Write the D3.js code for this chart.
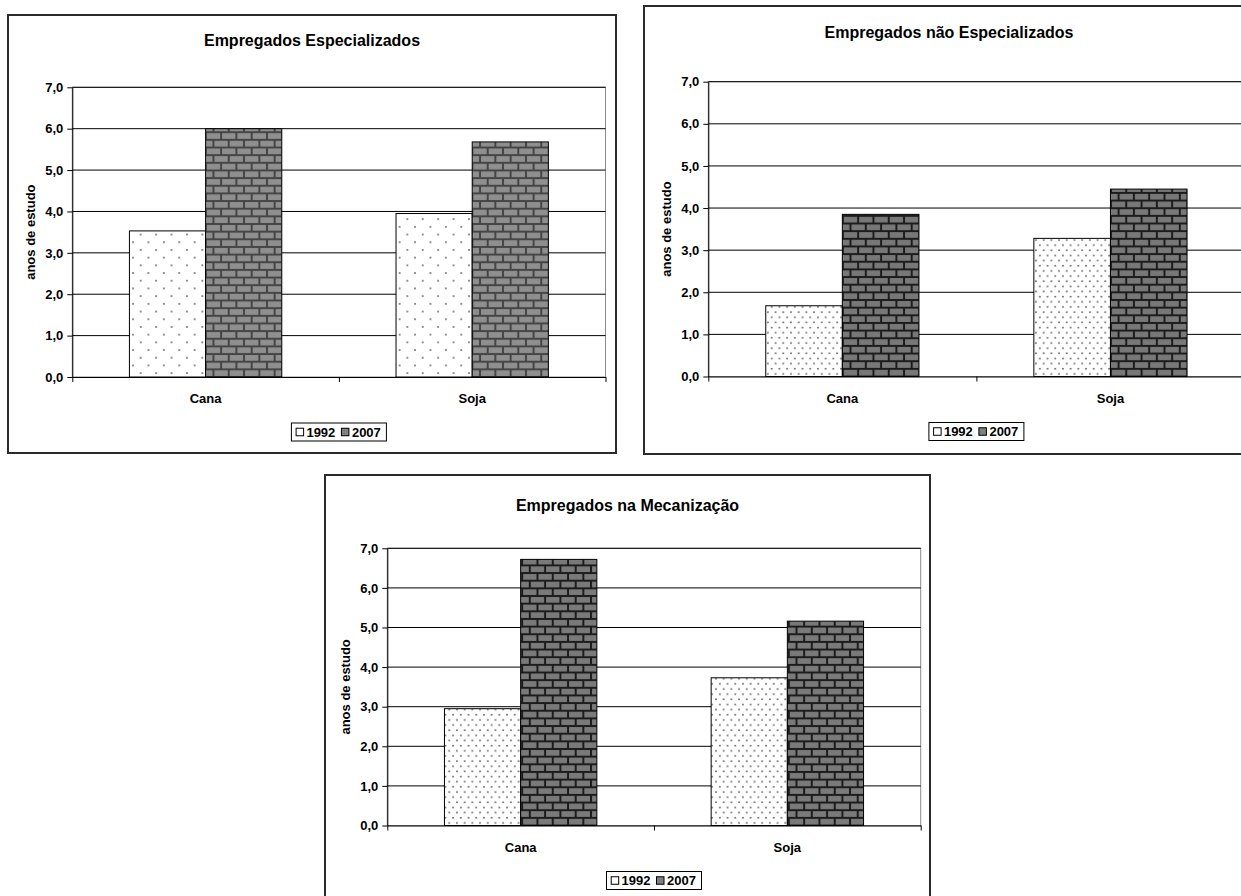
<!DOCTYPE html>
<html>
<head>
<meta charset="utf-8">
<script src="https://cdn.jsdelivr.net/npm/d3@7"></script>
<style>
  html, body { margin: 0; padding: 0; background: #fff; }
  svg { display: block; font-family: "Liberation Sans", Arial, sans-serif; }
</style>
</head>
<body>
<svg id="chart" width="1241" height="896"></svg>
<script>
// ---- data ----
const categories = ["Cana", "Soja"];
const years = ["1992", "2007"];
const yTickValues = [0, 1, 2, 3, 4, 5, 6, 7];
const yAxisTitle = "anos de estudo";
const titles = [
  "Empregados Especializados",
  "Empregados não Especializados",
  "Empregados na Mecanização"
];

const especializados1992 = [3.53, 3.95];
const especializados2007 = [6.0, 5.68];
const naoEspecializados1992 = [1.68, 3.28];
const naoEspecializados2007 = [3.85, 4.45];
const mecanizacao1992 = [2.95, 3.73];
const mecanizacao2007 = [6.72, 5.16];

// ---- layout of the three panels ----
const panels = [
  { title: titles[0], s1992: especializados1992, s2007: especializados2007,
    frame: [8, 15, 616, 453], left: 72.3, right: 605.5, top: 87.3, bottom: 377, titleY: 46,
    dot: { w: 15.4, h: 15.4 }, brick: { fill: "#8f8f8f", mortar: "#454545" } },
  { title: titles[1], s1992: naoEspecializados1992, s2007: naoEspecializados2007,
    frame: [644, 6, 1254, 454], left: 708.3, right: 1244.5, top: 81.7, bottom: 376.5, titleY: 38,
    dot: { w: 7.7, h: 10.3 }, brick: { fill: "#787878", mortar: "#1c1c1c" } },
  { title: titles[2], s1992: mecanizacao1992, s2007: mecanizacao2007,
    frame: [325, 475, 930, 902], left: 387.3, right: 920.7, top: 548.3, bottom: 825.5, titleY: 511,
    dot: { w: 7.7, h: 10.3 }, brick: { fill: "#7a7a7a", mortar: "#1c1c1c" } }
];

const svg = d3.select("#chart");
const defs = svg.append("defs");
const fmt = d => d.toFixed(1).replace(".", ",");

function makePatterns(p, i) {
  // sparse dot fill for 1992
  const dp = defs.append("pattern")
    .attr("id", "dots" + i).attr("patternUnits", "userSpaceOnUse")
    .attr("x", p.left).attr("y", p.bottom)
    .attr("width", p.dot.w).attr("height", p.dot.h);
  dp.append("rect").attr("width", p.dot.w).attr("height", p.dot.h).attr("fill", "#fff");
  dp.append("circle").attr("cx", p.dot.w * 0.25).attr("cy", p.dot.h * 0.25).attr("r", 0.85).attr("fill", "#555");
  dp.append("circle").attr("cx", p.dot.w * 0.75).attr("cy", p.dot.h * 0.75).attr("r", 0.85).attr("fill", "#555");

  // brick fill for 2007
  const bw = 15.3, bh = 15.3, half = bh / 2, m = 2;
  const bp = defs.append("pattern")
    .attr("id", "bricks" + i).attr("patternUnits", "userSpaceOnUse")
    .attr("x", p.left).attr("y", p.bottom)
    .attr("width", bw).attr("height", bh);
  bp.append("rect").attr("width", bw).attr("height", bh).attr("fill", p.brick.mortar);
  bp.append("rect").attr("x", m / 2).attr("y", m / 2).attr("width", bw - m).attr("height", half - m).attr("fill", p.brick.fill);
  bp.append("rect").attr("x", m / 2 - bw / 2).attr("y", half + m / 2).attr("width", bw - m).attr("height", half - m).attr("fill", p.brick.fill);
  bp.append("rect").attr("x", m / 2 + bw / 2).attr("y", half + m / 2).attr("width", bw - m).attr("height", half - m).attr("fill", p.brick.fill);
}

function drawPanel(p, i) {
  makePatterns(p, i);
  const g = svg.append("g");
  const [fx0, fy0, fx1, fy1] = p.frame;

  // chart area border
  g.append("rect")
    .attr("x", fx0).attr("y", fy0).attr("width", fx1 - fx0).attr("height", fy1 - fy0)
    .attr("fill", "#fff").attr("stroke", "#2a2a2a").attr("stroke-width", 2);

  const x = d3.scaleBand().domain(categories).range([p.left, p.right]).padding(0);
  const xInner = d3.scaleBand().domain(years).range([0, x.bandwidth()])
    .paddingInner(0).paddingOuter(0.75);
  const y = d3.scaleLinear().domain([0, 7]).range([p.bottom, p.top]);

  // plot area border
  g.append("rect")
    .attr("x", p.left).attr("y", p.top)
    .attr("width", p.right - p.left).attr("height", p.bottom - p.top)
    .attr("fill", "none").attr("stroke", "#8a8a8a").attr("stroke-width", 1);

  // horizontal gridlines
  g.append("g").selectAll("line")
    .data(yTickValues.filter(v => v > 0))
    .join("line")
    .attr("x1", p.left).attr("x2", p.right)
    .attr("y1", d => y(d)).attr("y2", d => y(d))
    .attr("stroke", "#000").attr("stroke-width", 1);

  // bars
  const rows = categories.map((c, k) => ({ cat: c, values: [
    { year: "1992", v: p.s1992[k] },
    { year: "2007", v: p.s2007[k] }
  ]}));
  g.append("g").selectAll("g")
    .data(rows)
    .join("g")
    .attr("transform", d => `translate(${x(d.cat)},0)`)
    .selectAll("rect")
    .data(d => d.values)
    .join("rect")
    .attr("x", d => xInner(d.year))
    .attr("width", xInner.bandwidth())
    .attr("y", d => y(d.v))
    .attr("height", d => y(0) - y(d.v))
    .attr("fill", d => d.year === "1992" ? `url(#dots${i})` : `url(#bricks${i})`)
    .attr("stroke", "#000").attr("stroke-width", 1);

  // y axis
  const yAxis = g.append("g")
    .attr("transform", `translate(${p.left},0)`)
    .call(d3.axisLeft(y).tickValues(yTickValues).tickFormat(fmt).tickSize(5).tickPadding(4).tickSizeOuter(0));
  yAxis.select(".domain").attr("stroke", "#000");
  yAxis.selectAll(".tick line").attr("stroke", "#000");
  yAxis.selectAll("text").attr("font-size", 13).attr("font-weight", "bold").attr("fill", "#000")
    .attr("font-family", "Liberation Sans, Arial, sans-serif");

  // x axis: boundary ticks between categories
  const edges = d3.scaleLinear().domain([0, categories.length]).range([p.left, p.right]);
  const xTicks = g.append("g")
    .attr("transform", `translate(0,${p.bottom})`)
    .call(d3.axisBottom(edges).tickValues(d3.range(categories.length + 1)).tickFormat("").tickSize(5).tickSizeOuter(0));
  xTicks.select(".domain").attr("stroke", "#000");
  xTicks.selectAll(".tick line").attr("stroke", "#000");

  // category labels
  const xLabels = g.append("g")
    .attr("transform", `translate(0,${p.bottom})`)
    .call(d3.axisBottom(x).tickSize(0).tickPadding(17));
  xLabels.select(".domain").remove();
  xLabels.selectAll("text").attr("font-size", 13).attr("font-weight", "bold").attr("fill", "#000")
    .attr("font-family", "Liberation Sans, Arial, sans-serif");

  // title
  g.append("text")
    .attr("x", (fx0 + fx1) / 2).attr("y", p.titleY)
    .attr("text-anchor", "middle").attr("font-size", 16).attr("font-weight", "bold")
    .text(p.title);

  // y axis title
  g.append("text")
    .attr("transform", `translate(${p.left - 37},${(p.top + p.bottom) / 2}) rotate(-90)`)
    .attr("text-anchor", "middle").attr("font-size", 13).attr("font-weight", "bold")
    .text(yAxisTitle);

  // legend
  const lw = 95, lh = 18;
  const lx = (p.left + p.right) / 2 - lw / 2, ly = p.bottom + 46;
  const lg = g.append("g").attr("transform", `translate(${lx},${ly})`);
  lg.append("rect").attr("width", lw).attr("height", lh).attr("fill", "#fff").attr("stroke", "#000").attr("stroke-width", 1);
  const items = [
    { label: years[0], sx: 4.7, tx: 15, fill: "#fff" },
    { label: years[1], sx: 50, tx: 60.5, fill: "#7f7f7f" }
  ];
  items.forEach(it => {
    lg.append("rect").attr("x", it.sx).attr("y", (lh - 7.5) / 2).attr("width", 7.5).attr("height", 7.5)
      .attr("fill", it.fill).attr("stroke", "#000").attr("stroke-width", 1);
    lg.append("text").attr("x", it.tx).attr("y", lh / 2 + 4.7)
      .attr("font-size", 13).attr("font-weight", "bold").text(it.label);
  });
}

panels.forEach(drawPanel);
</script>
</body>
</html>
